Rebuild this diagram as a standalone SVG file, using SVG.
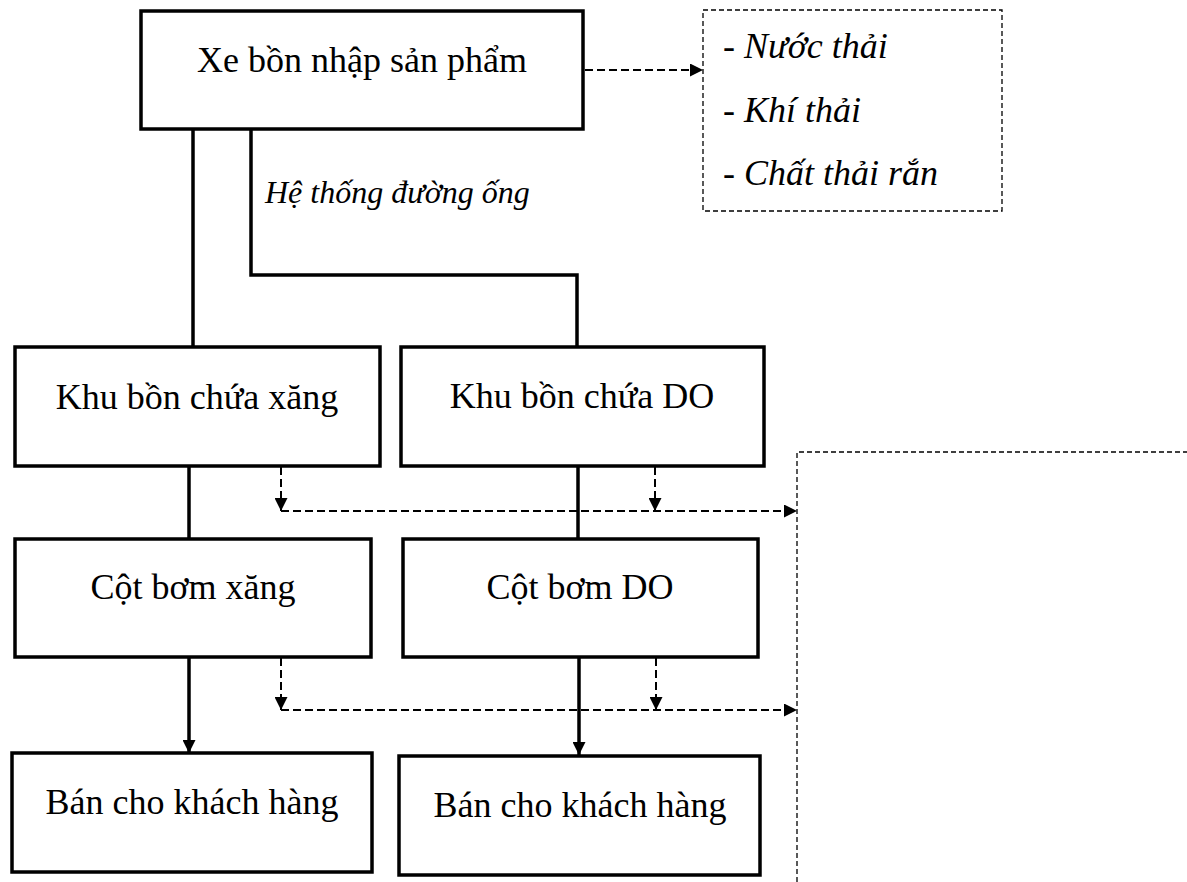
<svg xmlns="http://www.w3.org/2000/svg" width="1187" height="882" viewBox="0 0 1187 882">
<style>
.box{fill:#fff;stroke:#000;stroke-width:3.5}
.t{font-family:"Liberation Serif","Times New Roman",serif;font-size:36px;fill:#000;text-anchor:middle}
.ti{font-family:"Liberation Serif","Times New Roman",serif;font-size:36px;font-style:italic;fill:#000}
.solid{fill:none;stroke:#000;stroke-width:3.5}
.dash{fill:none;stroke:#000;stroke-width:2;stroke-dasharray:8 4}
.thin{fill:none;stroke:#000;stroke-width:1.3;stroke-dasharray:5 3}
</style>
<defs>
<marker id="ah" viewBox="0 0 10 10" refX="10" refY="5" markerUnits="userSpaceOnUse" markerWidth="15" markerHeight="13" orient="auto">
<path d="M0,0 L10,5 L0,10 Z" fill="#000"/>
</marker>
<marker id="ahs" viewBox="0 0 10 10" refX="10" refY="5" markerUnits="userSpaceOnUse" markerWidth="16" markerHeight="13" orient="auto">
<path d="M0,0 L10,5 L0,10 Z" fill="#000"/>
</marker>
</defs>
<g id="connectors">
<line class="solid" x1="193" y1="129" x2="193" y2="347"/>
<path class="solid" d="M251 129 V275 H577 V347"/>
<line class="solid" x1="189" y1="466" x2="189" y2="539"/>
<line class="solid" x1="578" y1="466" x2="578" y2="539"/>
<line class="solid" x1="189" y1="657" x2="189" y2="753" marker-end="url(#ahs)"/>
<line class="solid" x1="579" y1="657" x2="579" y2="755" marker-end="url(#ahs)"/>
<line class="dash" x1="585" y1="70" x2="703" y2="70" marker-end="url(#ah)"/>
<line class="dash" x1="281" y1="467" x2="281" y2="511" marker-end="url(#ah)"/>
<line class="dash" x1="655" y1="467" x2="655" y2="511" marker-end="url(#ah)"/>
<line class="dash" x1="281" y1="511" x2="797" y2="511" marker-end="url(#ah)"/>
<line class="dash" x1="281" y1="658" x2="281" y2="710" marker-end="url(#ah)"/>
<line class="dash" x1="656" y1="658" x2="656" y2="710" marker-end="url(#ah)"/>
<line class="dash" x1="281" y1="710" x2="797" y2="710" marker-end="url(#ah)"/>
<text class="ti" x="265" y="203" style="font-size:32px">Hệ thống đường ống</text>
</g>
<g id="n-xebon">
<rect class="box" x="141" y="11" width="442" height="118"/>
<text class="t" x="362" y="72">Xe bồn nhập sản phẩm</text>
</g>
<g id="n-waste">
<rect class="thin" x="703" y="10" width="299" height="201"/>
<text class="ti" x="723" y="58">- Nước thải</text>
<text class="ti" x="723" y="122">- Khí thải</text>
<text class="ti" x="723" y="185">- Chất thải rắn</text>
</g>
<g id="n-waste2">
<path class="thin" d="M797 882 V452 H1187"/>
</g>
<g id="n-khuxang">
<rect class="box" x="15" y="347" width="365" height="119"/>
<text class="t" x="197" y="409">Khu bồn chứa xăng</text>
</g>
<g id="n-khudo">
<rect class="box" x="401" y="347" width="363" height="119"/>
<text class="t" x="582" y="408">Khu bồn chứa DO</text>
</g>
<g id="n-cotxang">
<rect class="box" x="15" y="539" width="356" height="118"/>
<text class="t" x="193" y="599">Cột bơm xăng</text>
</g>
<g id="n-cotdo">
<rect class="box" x="403" y="539" width="355" height="118"/>
<text class="t" x="580" y="599">Cột bơm DO</text>
</g>
<g id="n-ban1">
<rect class="box" x="12" y="753" width="360" height="119"/>
<text class="t" x="192" y="814">Bán cho khách hàng</text>
</g>
<g id="n-ban2">
<rect class="box" x="399" y="756" width="361" height="119"/>
<text class="t" x="580" y="817">Bán cho khách hàng</text>
</g>
</svg>
